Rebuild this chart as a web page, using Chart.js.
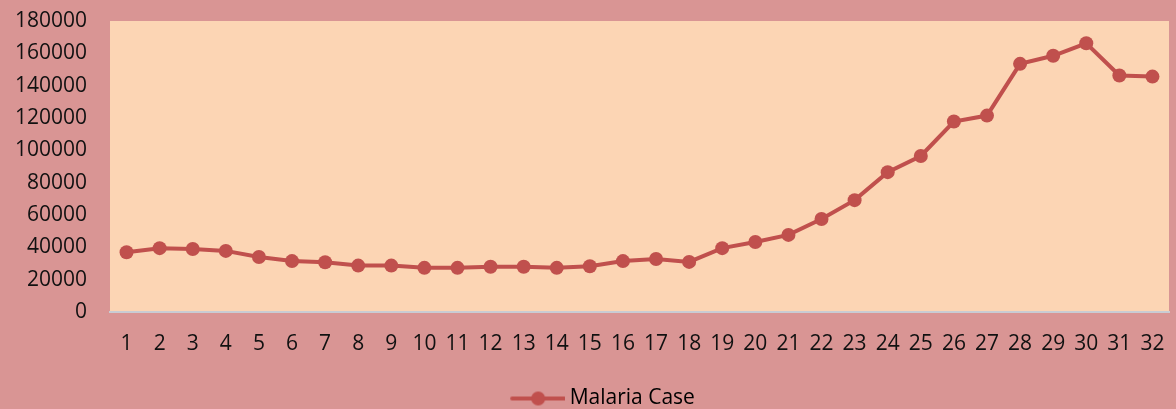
<!DOCTYPE html>
<html>
<head>
<meta charset="utf-8">
<script src="https://cdn.jsdelivr.net/npm/chart.js@4"></script>
<style>
  html, body { margin: 0; padding: 0; background: #d99594; }
  #wrap { width: 1176px; height: 409px; }
</style>
</head>
<body>
<div id="wrap"><canvas id="myChart"></canvas></div>
<script>
const categories = ['1', '2', '3', '4', '5', '6', '7', '8', '9', '10', '11', '12', '13', '14', '15', '16',
  '17', '18', '19', '20', '21', '22', '23', '24', '25', '26', '27', '28', '29', '30', '31', '32'];
const malariaCases = [37000, 39500, 39000, 37800, 34000, 31500, 30800, 28700, 28700, 27300, 27300, 28000,
  28000, 27300, 28300, 31500, 32800, 31000, 39500, 43300, 47700, 57500, 69200, 86500, 96500, 117800,
  121500, 153500, 158500, 166200, 146300, 145600];
const yTicks = [0, 20000, 40000, 60000, 80000, 100000, 120000, 140000, 160000, 180000];

const lineColor = '#c0504d';

// legend marker: short line with a dot in the middle (blank space on the left shifts it right)
const marker = document.createElement('canvas');
marker.width = 96;
marker.height = 16;
const mctx = marker.getContext('2d');
mctx.strokeStyle = lineColor;
mctx.lineWidth = 4;
mctx.lineCap = 'round';
mctx.beginPath();
mctx.moveTo(43, 8);
mctx.lineTo(95, 8);
mctx.stroke();
mctx.fillStyle = lineColor;
mctx.beginPath();
mctx.arc(69, 8, 7, 0, Math.PI * 2);
mctx.fill();

const plotBg = {
  id: 'plotBg',
  beforeDraw(chart) {
    const a = chart.chartArea;
    chart.ctx.save();
    chart.ctx.fillStyle = '#fcd5b4';
    chart.ctx.fillRect(a.left, a.top, a.right - a.left, a.bottom - a.top);
    chart.ctx.restore();
  }
};

Chart.defaults.font.family = '"Open Sans", sans-serif';
Chart.defaults.font.size = 21;
Chart.defaults.color = '#111';

const ctx = document.getElementById('myChart');
new Chart(ctx, {
  type: 'line',
  data: {
    labels: categories,
    datasets: [{
      label: 'Malaria Case',
      data: malariaCases,
      borderColor: lineColor,
      backgroundColor: lineColor,
      borderWidth: 4,
      pointRadius: 7,
      pointHoverRadius: 7,
      pointBackgroundColor: lineColor,
      pointBorderWidth: 0,
      pointStyle: 'circle',
      tension: 0
    }]
  },
  options: {
    responsive: true,
    maintainAspectRatio: false,
    animation: false,
    layout: {
      padding: { left: 0, right: 6, top: 21, bottom: -10 }
    },
    plugins: {
      tooltip: { enabled: false },
      legend: {
        position: 'bottom',
        labels: {
          usePointStyle: true,
          pointStyle: marker,
          pointStyleWidth: 84,
          padding: 10,
          generateLabels(chart) {
            return [{
              text: 'Malaria Case',
              pointStyle: marker,
              fillStyle: lineColor,
              strokeStyle: lineColor,
              lineWidth: 0,
              datasetIndex: 0,
              hidden: false
            }];
          }
        }
      }
    },
    scales: {
      x: {
        offset: true,
        grid: {
          display: true,
          drawOnChartArea: false,
          drawTicks: false
        },
        border: { display: true, color: '#c9ccd3', width: 2 },
        ticks: {
          autoSkip: false,
          maxRotation: 0,
          padding: 19
        },
        afterFit(scale) {
          scale.height = 66;
          scale.paddingLeft = 0;
          scale.paddingRight = 0;
        }
      },
      y: {
        min: 0,
        max: 180000,
        grid: { display: false, drawTicks: false },
        border: { display: false },
        afterBuildTicks(scale) {
          scale.ticks = yTicks.map(v => ({ value: v }));
        },
        ticks: {
          padding: 23,
          callback: v => String(v)
        },
        afterFit(scale) {
          scale.width = 110;
          scale.paddingTop = 0;
          scale.paddingBottom = 0;
        }
      }
    }
  },
  plugins: [plotBg]
});
</script>
</body>
</html>
